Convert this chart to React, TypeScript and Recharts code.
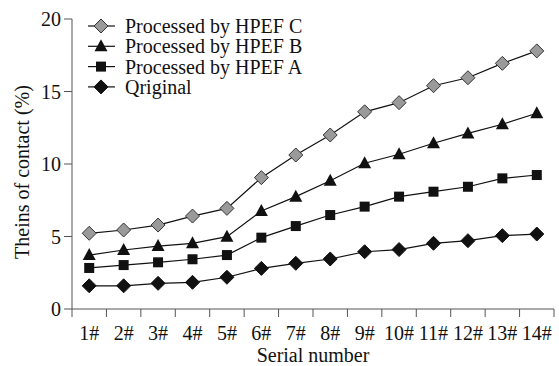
import React from 'react'
import { LineChart, Line, XAxis, YAxis, Legend } from 'recharts'

const categories = ['1#', '2#', '3#', '4#', '5#', '6#', '7#', '8#', '9#', '10#', '11#', '12#', '13#', '14#']
const original = [1.6, 1.6, 1.77, 1.84, 2.19, 2.8, 3.15, 3.45, 3.95, 4.1, 4.53, 4.71, 5.06, 5.17]
const hpefA = [2.83, 3.03, 3.22, 3.43, 3.72, 4.92, 5.72, 6.48, 7.06, 7.75, 8.09, 8.43, 9.01, 9.24]
const hpefB = [3.72, 4.07, 4.34, 4.53, 4.99, 6.76, 7.75, 8.85, 10.05, 10.67, 11.43, 12.11, 12.74, 13.5]
const hpefC = [5.22, 5.45, 5.79, 6.41, 6.94, 9.06, 10.62, 12.0, 13.6, 14.23, 15.4, 15.95, 16.94, 17.8]
const yTicks = [0, 5, 10, 15, 20]

const FONT = 'Liberation Serif'
const FS = 20
const W = 559
const H = 366
const MARGIN = { top: 19, right: 5, left: 12, bottom: 0 }
const Y_WIDTH = 60
const BAND = (W - MARGIN.left - Y_WIDTH - MARGIN.right) / categories.length

const data = categories.map((name, i) => ({
  pos: i + 0.5,
  name,
  original: original[i],
  hpefA: hpefA[i],
  hpefB: hpefB[i],
  hpefC: hpefC[i],
}))

type MarkerKind = 'diamondGray' | 'diamond' | 'square' | 'triangle'

const Marker = ({ kind, cx, cy }: { kind: MarkerKind; cx: number; cy: number }) => {
  if (kind === 'square') {
    return <rect x={cx - 5} y={cy - 5} width={10} height={10} fill="#111" />
  }
  if (kind === 'triangle') {
    return <polygon points={`${cx},${cy - 7} ${cx + 6.5},${cy + 5} ${cx - 6.5},${cy + 5}`} fill="#111" />
  }
  const gray = kind === 'diamondGray'
  return (
    <polygon
      points={`${cx},${cy - 7} ${cx + 7},${cy} ${cx},${cy + 7} ${cx - 7},${cy}`}
      fill={gray ? '#9a9a9a' : '#111'}
      stroke={gray ? '#333' : '#111'}
      strokeWidth={1}
    />
  )
}

const series: { key: string; name: string; kind: MarkerKind }[] = [
  { key: 'hpefC', name: 'Processed by HPEF C', kind: 'diamondGray' },
  { key: 'hpefB', name: 'Processed by HPEF B', kind: 'triangle' },
  { key: 'hpefA', name: 'Processed by HPEF A', kind: 'square' },
  { key: 'original', name: 'Qriginal', kind: 'diamond' },
]

const XTick = (props: any) => {
  const { x, y, payload } = props
  if (!payload || payload.value < 1) return null
  return (
    <text x={x - BAND / 2} y={y + 21} textAnchor="middle" fontFamily={FONT} fontSize={FS} fill="#111">
      {categories[payload.value - 1]}
    </text>
  )
}

const LegendBox = () => (
  <svg width={330} height={100} style={{ display: 'block' }}>
    {series.map((s, i) => {
      const cy = 26 + i * 20.3
      return (
        <g key={s.key}>
          <line x1={88} x2={115} y1={cy} y2={cy} stroke="#111" strokeWidth={1.2} />
          <Marker kind={s.kind} cx={101} cy={cy} />
          <text x={125} y={cy + 7} fontFamily={FONT} fontSize={FS} fill="#111">
            {s.name}
          </text>
        </g>
      )
    })}
  </svg>
)

export default function App() {
  return (
    <div style={{ position: 'absolute', left: 0, top: 0, width: W, height: H, background: '#fff', fontFamily: FONT }}>
      <LineChart width={W} height={H} data={data} margin={MARGIN}>
        <XAxis
          dataKey="pos"
          type="number"
          domain={[0, 14]}
          ticks={[0, 1, 2, 3, 4, 5, 6, 7, 8, 9, 10, 11, 12, 13, 14]}
          interval={0}
          tickSize={8}
          height={57}
          stroke="#555"
          tick={<XTick />}
          label={{ value: 'Serial number', position: 'insideBottom', offset: 4, fill: '#111', fontFamily: FONT, fontSize: FS }}
        />
        <YAxis
          domain={[0, 20]}
          ticks={yTicks}
          interval={0}
          tickSize={8}
          tickMargin={3}
          width={Y_WIDTH}
          stroke="#555"
          tick={{ fill: '#111', fontFamily: FONT, fontSize: FS }}
          label={{
            value: 'Theins of contact (%)',
            angle: -90,
            position: 'insideLeft',
            offset: 10,
            dy: 8,
            fill: '#111',
            fontFamily: FONT,
            fontSize: FS,
            style: { textAnchor: 'middle' },
          }}
        />
        <Legend
          layout="vertical"
          align="center"
          verticalAlign="middle"
          content={<LegendBox />}
          wrapperStyle={{ position: 'absolute', left: 0, top: 0, width: 330, height: 100 }}
        />
        {series.map((s) => (
          <Line
            key={s.key}
            dataKey={s.key}
            name={s.name}
            type="linear"
            stroke="#111"
            strokeWidth={1.2}
            isAnimationActive={false}
            dot={(p: any) => <Marker key={`${s.key}-${p.index}`} kind={s.kind} cx={p.cx} cy={p.cy} />}
            activeDot={false}
          />
        ))}
      </LineChart>
    </div>
  )
}
